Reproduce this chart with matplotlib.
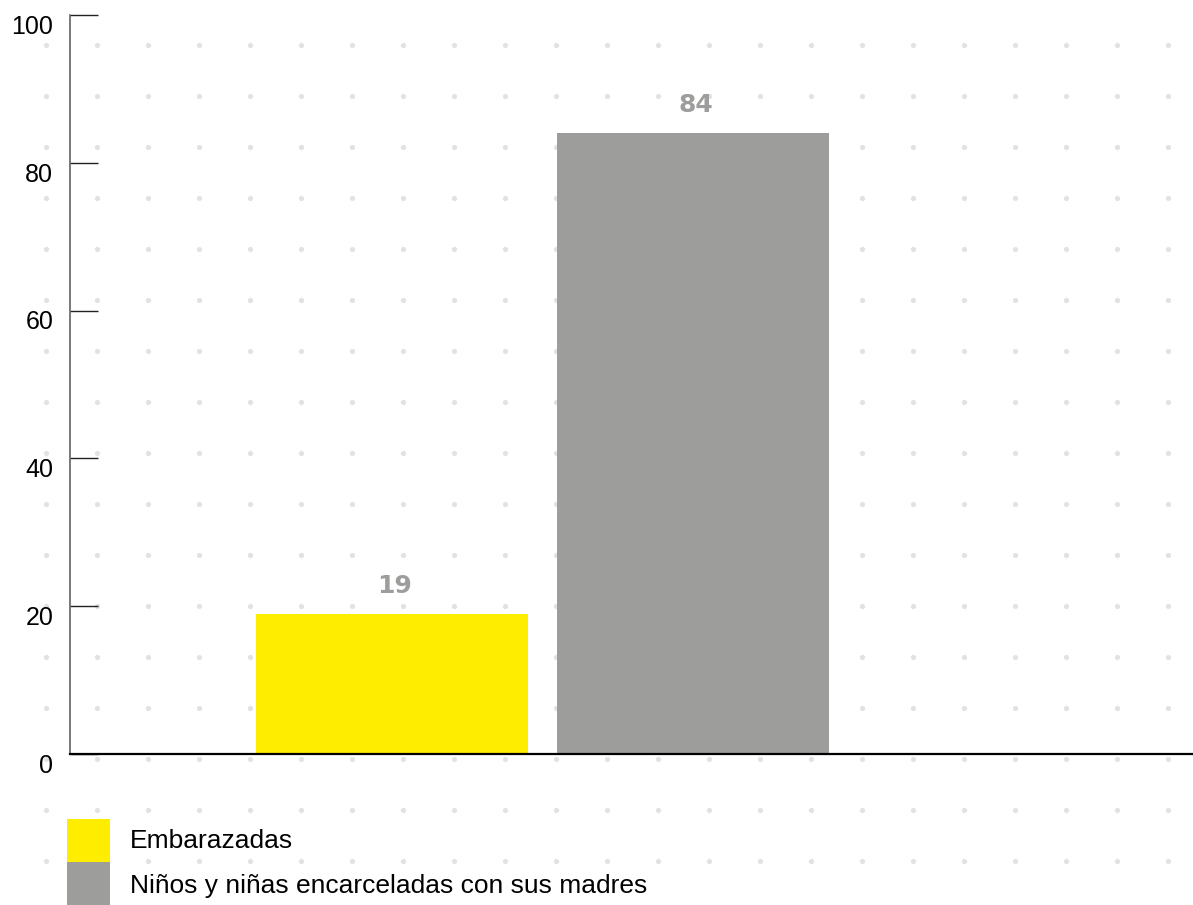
import numpy as np
import matplotlib.pyplot as plt
from matplotlib.patches import Rectangle
from matplotlib.transforms import ScaledTranslation

plt.rcParams['font.family'] = ['Liberation Sans', 'DejaVu Sans']

categorias = ['Embarazadas', 'Niños y niñas encarceladas con sus madres']
valores = [19, 84]
colores = ['#FFED00', '#9D9D9C']
yticks = [0, 20, 40, 60, 80, 100]

W, H = 1193, 905
fig = plt.figure(figsize=(W / 100, H / 100), dpi=100)

# fondo punteado (en pixeles de la figura)
bg = fig.add_axes([0, 0, 1, 1], zorder=-1)
bg.set_xlim(0, W)
bg.set_ylim(H, 0)
bg.axis('off')
gx, gy = np.meshgrid(np.arange(-5, W + 10, 51), np.arange(45, H + 10, 51))
bg.scatter(gx.ravel(), gy.ravel(), s=14, color='#E2E2E2', marker='o', linewidths=0)

ax = fig.add_axes([70 / W, (H - 754) / H, 1 - 70 / W, (754 - 15) / H])
ax.patch.set_alpha(0)
x = np.arange(len(valores))
bars = ax.bar(x, valores, width=0.902, color=colores, zorder=2)
ax.set_xlim(-1.068, 2.657)
ax.set_ylim(0, 100)

for b, v in zip(bars, valores):
    ax.annotate(str(v), (b.get_x() + b.get_width() / 2, v), xytext=(2, 15),
                textcoords='offset points', ha='center', va='baseline',
                fontsize=18, fontweight='heavy', color='#9D9D9C',
                family='DejaVu Sans')

ax.spines['top'].set_visible(False)
ax.spines['right'].set_visible(False)
ax.spines['left'].set_color('#555555')
ax.spines['left'].set_linewidth(1.1)
ax.spines['bottom'].set_color('black')
ax.spines['bottom'].set_linewidth(1.6)
ax.set_xticks([])
ax.set_yticks(yticks)
ax.set_yticklabels([str(t) for t in yticks])
ax.tick_params(axis='y', direction='in', length=20, width=1.0, color='#222222',
               pad=12, labelsize=18)
for lab in ax.get_yticklabels():
    lab.set_va('center')
    lab.set_transform(lab.get_transform() + ScaledTranslation(0, -8.5 / 72, fig.dpi_scale_trans))

# leyenda
lado = 43
for i, (cat, c) in enumerate(zip(categorias, colores)):
    top = 819 + i * lado
    fig.patches.append(Rectangle((67 / W, 1 - (top + lado) / H), lado / W, lado / H,
                                 transform=fig.transFigure, facecolor=c, edgecolor='none'))
    fig.text(130 / W, 1 - (top + lado / 2 + 2 * i) / H, cat, fontsize=19, va='center', ha='left')

fig.savefig('out.png', dpi=100)
